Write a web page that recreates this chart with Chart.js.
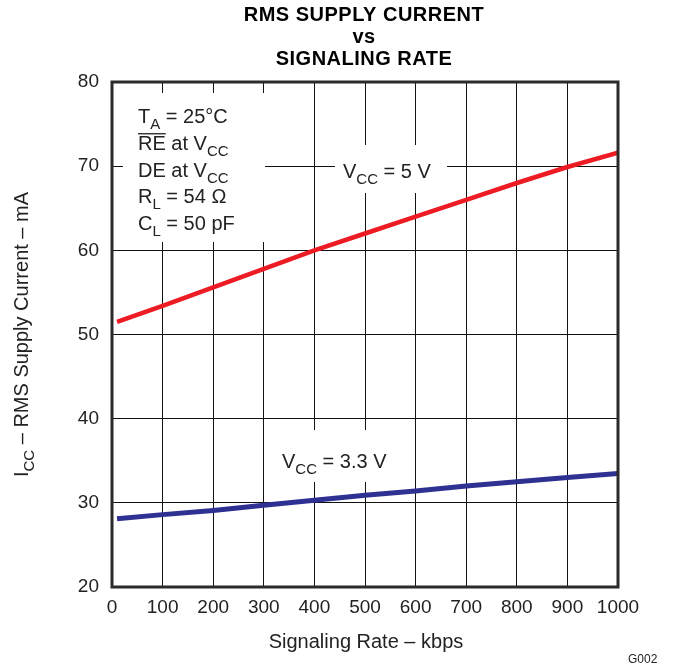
<!DOCTYPE html>
<html>
<head>
<meta charset="utf-8">
<title>RMS Supply Current vs Signaling Rate</title>
<script src="https://cdn.jsdelivr.net/npm/chart.js@4.4.0/dist/chart.umd.min.js"></script>
<style>
  html, body { margin: 0; padding: 0; background: #fff; }
</style>
</head>
<body>
<canvas id="myChart" width="674" height="668"></canvas>
<script>
// values
const rates  = [10, 100, 200, 300, 400, 500, 600, 700, 800, 900, 1000];
const icc5V  = [51.5, 53.4, 55.6, 57.8, 60.0, 62.0, 64.0, 66.0, 68.0, 69.9, 71.6];
const icc3V3 = [28.1, 28.6, 29.1, 29.7, 30.3, 30.9, 31.4, 32.0, 32.5, 33.0, 33.5];
const xTicks = [0, 100, 200, 300, 400, 500, 600, 700, 800, 900, 1000];
const yTicks = [20, 30, 40, 50, 60, 70, 80];
const titleLines = ['RMS SUPPLY CURRENT', 'vs', 'SIGNALING RATE'];

const FONT = "'Liberation Sans', Arial, Helvetica, sans-serif";
const INK = '#222';

// draw a run of text pieces, some subscripted / overlined
function drawRich(ctx, parts, x, y, size, align) {
    const sub = Math.round(size * 0.75);
    let total = 0;
    parts.forEach(p => {
        ctx.font = (p.sub ? sub : size) + 'px ' + FONT;
        total += ctx.measureText(p.t).width;
    });
    let cx = align === 'center' ? x - total / 2 : x;
    parts.forEach(p => {
        ctx.font = (p.sub ? sub : size) + 'px ' + FONT;
        const w = ctx.measureText(p.t).width;
        ctx.fillText(p.t, cx, p.sub ? y + size * 0.28 : y);
        if (p.over) {
            ctx.fillRect(cx, y - size * 0.72 - 2.5, w, 1.3);
        }
        cx += w;
    });
    return total;
}

const decor = {
    id: 'decor',
    beforeDatasetsDraw(chart) {
        const ctx = chart.ctx;
        ctx.save();
        // white patches behind the notes
        ctx.fillStyle = '#fff';
        ctx.fillRect(123, 93, 142, 149);
        ctx.fillRect(335, 145, 112, 48);
        ctx.fillRect(275, 430, 121, 52);

        ctx.fillStyle = INK;
        ctx.textAlign = 'left';
        ctx.textBaseline = 'alphabetic';
        const notes = [
            [{t: 'T'}, {t: 'A', sub: true}, {t: ' = 25°C'}],
            [{t: 'RE', over: true}, {t: ' at V'}, {t: 'CC', sub: true}],
            [{t: 'DE at V'}, {t: 'CC', sub: true}],
            [{t: 'R'}, {t: 'L', sub: true}, {t: ' = 54 Ω'}],
            [{t: 'C'}, {t: 'L', sub: true}, {t: ' = 50 pF'}]
        ];
        const base = [123, 150, 177, 203, 230];
        notes.forEach((n, i) => drawRich(ctx, n, 138, base[i], 20, 'left'));

        drawRich(ctx, [{t: 'V'}, {t: 'CC', sub: true}, {t: ' = 5 V'}], 343, 178, 20, 'left');
        drawRich(ctx, [{t: 'V'}, {t: 'CC', sub: true}, {t: ' = 3.3 V'}], 282, 468, 20, 'left');
        ctx.restore();
    },
    afterDraw(chart) {
        const ctx = chart.ctx;
        const a = chart.chartArea;
        ctx.save();
        // frame
        ctx.strokeStyle = '#2b2b2b';
        ctx.lineWidth = 3;
        ctx.strokeRect(a.left, a.top, a.right - a.left, a.bottom - a.top);

        // title
        ctx.fillStyle = '#000';
        ctx.textAlign = 'center';
        ctx.font = 'bold 20px ' + FONT;
        ctx.letterSpacing = '0.5px';
        const tb = [21, 43, 65];
        titleLines.forEach((t, i) => ctx.fillText(t, 364, tb[i]));
        ctx.letterSpacing = '0px';

        // axis titles
        ctx.fillStyle = INK;
        ctx.textAlign = 'left';
        drawRich(ctx, [{t: 'Signaling Rate – kbps'}], 366, 648, 20, 'center');

        ctx.save();
        ctx.translate(28, (a.top + a.bottom) / 2);
        ctx.rotate(-Math.PI / 2);
        drawRich(ctx, [{t: 'I'}, {t: 'CC', sub: true}, {t: ' – RMS Supply Current – mA'}], 0, 0, 20, 'center');
        ctx.restore();

        ctx.font = '12px ' + FONT;
        ctx.fillText('G002', 628, 663);
        ctx.restore();
    }
};

const ctx = document.getElementById('myChart').getContext('2d');
new Chart(ctx, {
    type: 'line',
    data: {
        datasets: [{
            label: 'VCC = 5 V',
            data: rates.map((r, i) => ({x: r, y: icc5V[i]})),
            borderColor: '#ed1c24',
            borderWidth: 4.5,
            pointRadius: 0,
            tension: 0
        }, {
            label: 'VCC = 3.3 V',
            data: rates.map((r, i) => ({x: r, y: icc3V3[i]})),
            borderColor: '#2e3192',
            borderWidth: 5,
            pointRadius: 0,
            tension: 0
        }]
    },
    options: {
        responsive: false,
        animation: false,
        layout: { padding: { top: 82, right: 56, left: 0, bottom: 0 } },
        plugins: {
            legend: { display: false },
            title: { display: false },
            tooltip: { enabled: false }
        },
        scales: {
            x: {
                type: 'linear',
                min: 0,
                max: 1000,
                afterBuildTicks: s => { s.ticks = xTicks.map(v => ({value: v})); },
                afterFit: s => { s.height = 81; },
                grid: { color: '#111', lineWidth: 1, drawTicks: false },
                border: { display: false },
                ticks: { padding: 9, color: INK, font: { family: FONT, size: 19 }, maxRotation: 0, autoSkip: false,
                         callback: v => String(v) }
            },
            y: {
                min: 20,
                max: 80,
                afterBuildTicks: s => { s.ticks = yTicks.map(v => ({value: v})); },
                afterFit: s => { s.width = 112; },
                grid: { color: '#111', lineWidth: 1, drawTicks: false },
                border: { display: false },
                ticks: { padding: 13, color: INK, font: { family: FONT, size: 19 }, callback: v => String(v) }
            }
        }
    },
    plugins: [decor]
});
</script>
</body>
</html>
